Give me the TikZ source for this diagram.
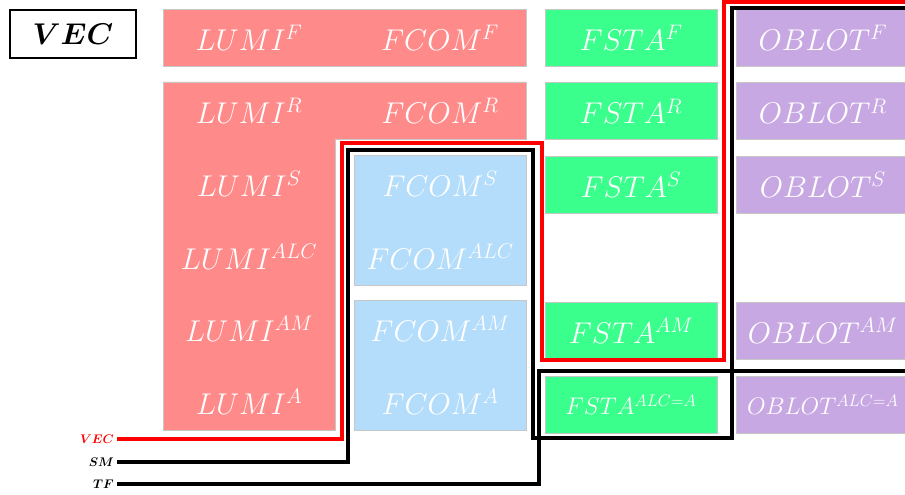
\RequirePackage{fix-cm}
\documentclass[tikz,border=0pt]{standalone}
\usepackage{amsmath,amssymb}
\usepackage{xcolor}
\usetikzlibrary{positioning}

\definecolor{lumired}{RGB}{255,138,138}
\definecolor{fcomblue}{RGB}{180,221,251}
\definecolor{fstagreen}{RGB}{58,255,140}
\definecolor{oblotpurple}{RGB}{200,168,227}

\begin{document}
\begin{tikzpicture}[
  x=1pt, y=-1pt,
  node distance=16pt and 19pt,
  every node/.style={font=\fontsize{30}{36}\selectfont, text=white},
  cell/.style={draw=black!22, line width=0.8pt, minimum width=172pt,
    minimum height=57pt, inner sep=0pt},
  lumi/.style={cell, fill=lumired},
  fcom/.style={cell, fill=fcomblue, minimum height=130pt},
  fsta/.style={cell, fill=fstagreen},
  oblot/.style={cell, fill=oblotpurple},
  small/.style={font=\fontsize{24}{28}\selectfont},
  tag/.style={anchor=east, inner sep=3pt, font=\fontsize{12.5}{14}\selectfont},
  wire/.style={line width=3.2pt, line join=miter},
]
\useasboundingbox (0,0) rectangle (905,495);
% title box
\node[draw=black, line width=2.8pt, text=black, minimum width=126pt,
  minimum height=48pt] (title) at (73,34) {$\boldsymbol{VEC}$};
% LUMI / FCOM block
\node[lumi, minimum width=363pt] (redF) at (344.5,37.5) {};
\draw[draw=black!22, line width=0.8pt, fill=lumired]
  (163,82) -- (526,82) -- (526,139) -- (335,139) -- (335,430) -- (163,430) -- cycle;
\node[fcom] (blueS) at (440,220) {};
\node[fcom] (blueA) at (440,365) {};
\node (lumiF) at (249,37.5) {$LUMI^F$};
\node (fcomF) at (440,37.5) {$FCOM^F$};
\node (lumiR) at (249,110.5) {$LUMI^R$};
\node (fcomR) at (440,110.5) {$FCOM^R$};
\node (lumiS) at (249,183.5) {$LUMI^S$};
\node (fcomS) at (440,183.5) {$FCOM^S$};
\node (lumiALC) at (249,256.5) {$LUMI^{ALC}$};
\node (fcomALC) at (440,256.5) {$FCOM^{ALC}$};
\node (lumiAM) at (249,328.5) {$LUMI^{AM}$};
\node (fcomAM) at (440,328.5) {$FCOM^{AM}$};
\node (lumiA) at (249,401.5) {$LUMI^A$};
\node (fcomA) at (440,401.5) {$FCOM^A$};
% FSTA column
\node[fsta] (fstaF) at (631,37.5) {$FSTA^F$};
\node[fsta, below=of fstaF] (fstaR) {$FSTA^R$};
\node[fsta, below=of fstaR] (fstaS) {$FSTA^S$};
\node[fsta, below=88pt of fstaS] (fstaAM) {$FSTA^{AM}$};
\node[fsta, small, below=of fstaAM] (fstaALC) {$FSTA^{ALC=A}$};
% OBLOT column
\node[oblot, right=of fstaF] (oblotF) {$OBLOT^F$};
\node[oblot, right=of fstaR] (oblotR) {$OBLOT^R$};
\node[oblot, right=of fstaS] (oblotS) {$OBLOT^S$};
\node[oblot, right=of fstaAM] (oblotAM) {$OBLOT^{AM}$};
\node[oblot, small, right=of fstaALC] (oblotALC) {$OBLOT^{ALC=A}$};
% boundaries
\node[tag, text=red] (vecin) at (117,439) {$\boldsymbol{VEC}$};
\node[tag, text=black] (smin) at (117,462) {$\boldsymbol{SM}$};
\node[tag, text=black] (tfin) at (117,484) {$\boldsymbol{TF}$};
\draw[wire, red] (vecin.east) -| (342,143) -| (542,360) -| (724,2) -- (905,2);
\draw[wire] (smin.east) -| (348,150) -| (533,438) -| (732,8) -- (905,8);
\draw[wire] (tfin.east) -| (539,371) -- (905,371);
\end{tikzpicture}
\end{document}
